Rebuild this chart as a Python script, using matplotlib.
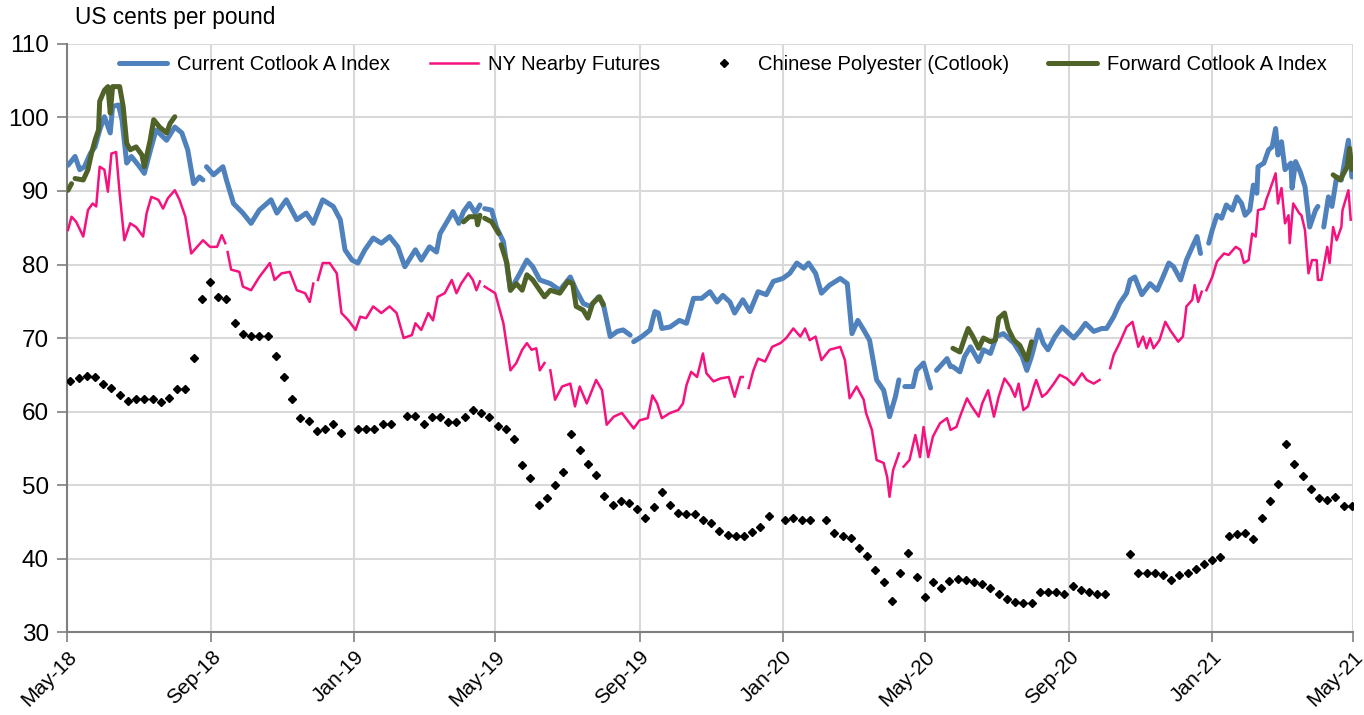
import numpy as np
import pandas as pd
import matplotlib
matplotlib.use("Agg")
import matplotlib.pyplot as plt

plt.rcParams['font.family'] = ['Liberation Sans', 'DejaVu Sans']

start = pd.Timestamp('2018-05-01')

# (days since 1 May 2018, US cents/lb); None marks a gap in the series
current_a = [
    (1, 93.5), (7, 94.7), (11, 92.9), (15, 93.3), (20, 95.1), (24, 96.0), (28, 98.3), (32, 100.1),
    (37, 97.9), (39, 101.5), (44, 101.7), (47, 99.7), (51, 93.8), (55, 94.7), (62, 93.3), (66, 92.4),
    (72, 96.0), (76, 98.3), (85, 96.9), (92, 98.7), (98, 97.9), (103, 95.6), (108, 91.0), (113, 91.9),
    (116, 91.5), (117, None), (119, 93.3), (125, 92.2), (133, 93.3), (136, 91.5), (142, 88.3), (150, 87.0),
    (157, 85.6), (164, 87.4), (174, 88.8), (179, 87.0), (187, 88.8), (196, 86.1), (204, 87.0), (210, 85.6),
    (218, 88.8), (227, 87.9), (233, 86.1), (237, 82.0), (243, 80.6), (248, 80.2), (254, 82.0), (261, 83.6),
    (268, 82.9), (275, 83.8), (282, 82.4), (288, 79.7), (297, 82.0), (302, 80.6), (309, 82.4), (315, 81.7),
    (318, 84.2), (325, 86.1), (329, 87.2), (334, 85.6), (338, 87.2), (343, 88.3), (348, 87.0), (352, 88.1),
    (354, None), (356, 87.6), (362, 87.4), (366, 85.1), (372, 83.1), (378, 76.5), (386, 78.8), (392, 80.6),
    (397, 79.7), (403, 77.9), (412, 77.4), (420, 76.5), (429, 78.3), (434, 76.5), (440, 74.7), (446, 74.3),
    (453, 75.6), (457, 74.7), (463, 70.2), (469, 70.9), (474, 71.1), (480, 70.4), (481, None), (483, 69.5),
    (490, 70.2), (497, 71.1), (501, 73.6), (504, 73.4), (507, 71.3), (514, 71.5), (522, 72.4), (528, 72.0),
    (534, 75.4), (541, 75.4), (548, 76.3), (554, 74.9), (559, 75.8), (565, 74.9), (569, 73.4), (576, 75.2),
    (582, 73.6), (589, 76.3), (596, 75.9), (602, 77.7), (610, 78.1), (616, 78.8), (622, 80.2), (628, 79.5),
    (632, 80.2), (638, 78.8), (643, 76.1), (650, 77.2), (659, 78.1), (665, 77.4), (669, 70.6), (674, 72.4),
    (679, 71.1), (684, 69.7), (690, 64.3), (696, 62.9), (701, 59.3), (706, 62.0), (709, 64.3), (711, None),
    (714, 63.4), (721, 63.4), (724, 65.6), (730, 66.6), (736, 63.2), (738, None), (741, 65.6), (750, 67.2),
    (753, 66.1), (754, None), (755, 66.1), (761, 65.4), (765, 67.5), (770, 68.8), (777, 66.8), (781, 68.4),
    (787, 67.9), (792, 70.2), (798, 70.6), (807, 69.3), (814, 67.5), (818, 65.6), (822, 67.5), (828, 71.1),
    (832, 69.3), (836, 68.4), (842, 70.2), (848, 71.5), (852, 70.9), (858, 70.0), (863, 70.9), (868, 72.0),
    (875, 70.9), (882, 71.3), (886, 71.3), (892, 72.9), (897, 74.7), (903, 76.1), (906, 77.9), (910, 78.3),
    (916, 75.9), (923, 77.4), (929, 76.5), (934, 78.3), (939, 80.2), (943, 79.7), (949, 77.9), (954, 80.6),
    (959, 82.4), (963, 83.8), (966, 81.5), (969, None), (973, 82.9), (976, 84.7), (980, 86.7), (984, 86.3),
    (988, 88.1), (993, 87.4), (997, 89.2), (1001, 88.3), (1004, 86.7), (1008, 87.4), (1011, 90.8), (1014, 89.7),
    (1015, 93.3), (1020, 93.8), (1024, 95.6), (1027, 96.0), (1030, 98.5), (1032, 94.9), (1035, 96.7), (1038, 92.9),
    (1043, 93.8), (1044, 90.4), (1047, 94.0), (1051, 92.6), (1055, 90.6), (1059, 85.1), (1064, 87.4), (1066, 87.9),
    (1068, None), (1071, 85.1), (1075, 89.2), (1078, 87.9), (1082, 91.9), (1086, 91.5), (1092, 96.9), (1095, 91.9),
]

ny_nearby = [
    (1, 84.7), (4, 86.5), (8, 85.8), (14, 83.8), (18, 87.4), (22, 88.3), (25, 87.9), (28, 93.3),
    (32, 92.9), (35, 89.9), (38, 95.1), (42, 95.3), (45, 89.7), (49, 83.3), (54, 85.6), (59, 85.1),
    (65, 83.8), (68, 87.0), (72, 89.2), (78, 88.8), (82, 87.6), (86, 89.0), (92, 90.1), (96, 88.8),
    (101, 86.5), (106, 81.5), (111, 82.4), (116, 83.3), (122, 82.4), (128, 82.4), (132, 84.0), (135, 82.9),
    (136, None), (137, 81.7), (140, 79.3), (147, 79.0), (150, 77.0), (157, 76.5), (164, 78.3), (173, 80.2),
    (177, 77.9), (183, 78.8), (190, 79.0), (196, 76.5), (203, 76.1), (207, 74.9), (210, 77.4), (212, None),
    (214, 77.9), (218, 80.2), (224, 80.2), (230, 78.8), (234, 73.4), (240, 72.4), (246, 71.1), (250, 72.9),
    (255, 72.7), (261, 74.3), (268, 73.4), (275, 74.3), (281, 73.4), (287, 70.0), (294, 70.4), (297, 72.0),
    (302, 71.1), (308, 73.4), (312, 72.4), (316, 75.6), (322, 76.1), (328, 77.9), (332, 76.1), (336, 77.4),
    (342, 78.8), (346, 77.9), (349, 76.5), (352, 77.7), (354, None), (356, 77.0), (361, 76.5), (365, 76.1),
    (372, 72.0), (378, 65.6), (383, 66.6), (388, 68.4), (392, 69.3), (396, 68.4), (400, 68.6), (403, 65.6),
    (407, 66.6), (409, None), (412, 65.6), (416, 61.6), (422, 63.4), (429, 63.8), (433, 60.7), (437, 63.4),
    (443, 61.1), (451, 64.3), (456, 62.9), (460, 58.2), (466, 59.3), (473, 59.8), (483, 57.7), (488, 58.8),
    (495, 59.1), (499, 62.2), (503, 61.1), (507, 59.1), (514, 59.8), (521, 60.2), (525, 61.1), (528, 63.6),
    (532, 65.4), (537, 64.7), (542, 67.9), (545, 65.2), (551, 64.1), (557, 64.5), (564, 64.7), (569, 62.0),
    (574, 64.7), (576, 64.7), (578, None), (581, 63.2), (585, 65.6), (589, 67.2), (595, 66.8), (601, 68.8),
    (608, 69.3), (613, 70.0), (619, 71.3), (625, 70.2), (629, 71.3), (633, 69.7), (638, 70.2), (643, 67.0),
    (650, 68.4), (659, 68.8), (663, 67.0), (667, 61.8), (673, 63.4), (679, 61.6), (681, 59.8), (686, 57.5),
    (690, 53.4), (696, 53.0), (699, 51.1), (701, 48.4), (704, 52.0), (709, 54.3), (711, None), (713, 52.5),
    (718, 53.4), (723, 56.8), (727, 53.8), (730, 57.9), (734, 53.8), (738, 56.6), (744, 58.4), (750, 59.1),
    (753, 57.5), (758, 57.9), (761, 59.3), (767, 61.8), (771, 60.7), (777, 59.3), (780, 61.1), (785, 62.9),
    (790, 59.3), (794, 62.0), (799, 64.5), (804, 63.4), (808, 62.0), (811, 63.8), (815, 60.2), (819, 60.7),
    (824, 63.4), (826, 64.3), (831, 62.0), (835, 62.5), (841, 63.8), (846, 65.0), (852, 64.5), (858, 63.6),
    (865, 65.2), (869, 64.3), (875, 63.8), (880, 64.3), (884, None), (889, 65.9), (892, 67.7), (897, 69.3),
    (903, 71.5), (908, 72.2), (913, 68.8), (917, 70.2), (920, 68.6), (923, 70.0), (926, 68.6), (931, 69.7),
    (936, 72.2), (940, 71.1), (947, 69.5), (951, 70.2), (954, 74.3), (959, 75.2), (961, 77.2), (964, 74.9),
    (967, 76.3), (969, None), (971, 76.5), (976, 78.3), (980, 80.4), (986, 81.5), (990, 81.3), (996, 82.4),
    (1000, 82.0), (1003, 80.2), (1007, 80.6), (1010, 84.2), (1013, 83.8), (1015, 87.4), (1020, 87.6), (1022, 88.8),
    (1025, 90.1), (1030, 92.4), (1032, 88.3), (1035, 90.4), (1038, 85.6), (1041, 86.7), (1042, 82.9), (1045, 88.3),
    (1050, 87.0), (1052, 86.7), (1055, 84.7), (1058, 78.8), (1061, 80.6), (1065, 80.6), (1066, 77.9), (1069, 77.9),
    (1074, 82.4), (1076, 80.2), (1079, 85.1), (1082, 83.3), (1086, 85.1), (1087, 87.4), (1092, 90.1), (1094, 86.1),
]

forward_a = [
    (1, 90.1), (4, 91.0), (5, None), (7, 91.7), (14, 91.5), (18, 92.9), (21, 95.1), (24, 96.9),
    (27, 98.3), (28, 102.2), (32, 103.7), (35, 104.2), (37, 100.6), (39, 104.2), (45, 104.2), (48, 101.5),
    (51, 96.5), (54, 95.6), (59, 96.0), (64, 94.9), (66, 93.3), (71, 96.9), (74, 99.7), (79, 98.7),
    (85, 97.9), (88, 99.2), (92, 100.1), (200, None),
    (338, 85.8), (343, 86.5), (349, 86.5), (350, 85.4), (352, 86.7), (354, None), (356, 86.3), (362, 85.8),
    (368, 84.2), (369, None), (370, 82.7), (375, 80.2), (378, 76.5), (383, 77.4), (388, 76.5), (392, 78.6),
    (397, 77.9), (403, 76.5), (407, 75.6), (412, 76.5), (420, 76.1), (427, 77.7), (431, 77.4), (434, 74.3),
    (440, 73.8), (444, 72.7), (448, 74.7), (454, 75.6), (457, 74.5), (600, None),
    (755, 68.6), (761, 68.1), (765, 70.0), (768, 71.3), (772, 70.2), (777, 68.6), (781, 70.0), (787, 69.5),
    (791, 69.7), (794, 72.7), (799, 73.4), (802, 71.3), (807, 69.7), (812, 69.0), (818, 67.0), (822, 69.5),
    (900, None),
    (1079, 92.2), (1085, 91.5), (1091, 93.3), (1093, 95.8), (1095, 92.9),
]

# weekly Chinese polyester quotes starting 4 May 2018 (None = no quote)
polyester = [
    64.1, 64.5, 64.8, 64.7, 63.8, 63.2, 62.3, 61.4, 61.7, 61.7, 61.7, 61.3, 61.9, 63.1, 63.1, 67.3,
    75.3, 77.6, 75.6, 75.3, 72.1, 70.5, 70.3, 70.3, 70.3, 67.5, 64.7, 61.7, 59.1, 58.7, 57.3, 57.6,
    58.3, 57.1, None, 57.6, 57.6, 57.6, 58.3, 58.3, None, 59.4, 59.4, 58.3, 59.3, 59.3, 58.6, 58.6,
    59.2, 60.2, 59.8, 59.3, 58.0, 57.6, 56.3, 52.7, 50.9, 47.3, 48.2, 50.0, 51.8, 57.0, 54.8, 52.8,
    51.4, 48.5, 47.3, 47.8, 47.5, 46.8, 45.5, 47.0, 49.0, 47.3, 46.2, 46.0, 46.1, 45.3, 44.8, 43.8,
    43.2, 43.0, 43.1, 43.6, 44.3, 45.8, None, 45.2, 45.5, 45.2, 45.2, None, 45.2, 43.5, 43.0, 42.8,
    41.5, 40.3, 38.5, 36.8, 34.2, 38.0, 40.7, 37.5, 34.8, 36.8, 36.0, 37.0, 37.2, 37.1, 36.8, 36.5,
    36.0, 35.2, 34.5, 34.1, 33.9, 34.0, 35.4, 35.5, 35.5, 35.2, 36.3, 35.7, 35.4, 35.2, 35.2, None,
    None, 40.6, 38.0, 38.0, 38.0, 37.8, 37.1, 37.7, 38.0, 38.6, 39.3, 39.8, 40.2, 43.0, 43.3, 43.5,
    42.7, 45.5, 47.8, 50.2, 55.6, 52.8, 51.2, 49.5, 48.2, 48.0, 48.4, 47.2, 47.2,
]

tick_labels = ['May-18', 'Sep-18', 'Jan-19', 'May-19', 'Sep-19', 'Jan-20',
               'May-20', 'Sep-20', 'Jan-21', 'May-21']


def to_series(pairs):
    days = [d for d, v in pairs]
    vals = [np.nan if v is None else v for d, v in pairs]
    return start + pd.to_timedelta(days, unit='D'), np.array(vals, dtype=float)


fig = plt.figure(figsize=(13.64, 7.15), dpi=100)
ax = fig.add_axes([0.049, 0.116, 0.943, 0.8225])

x, y = to_series(current_a)
ax.plot(x, y, color='#4F81BD', lw=3.6, label='Current Cotlook A Index', zorder=3,
        solid_capstyle='round')
x, y = to_series(ny_nearby)
ax.plot(x, y, color='#F5127F', lw=1.8, label='NY Nearby Futures', zorder=4)
poly_dates = pd.Timestamp('2018-05-04') + pd.to_timedelta(np.arange(len(polyester)) * 7, unit='D')
poly_vals = np.array([np.nan if v is None else v for v in polyester], dtype=float)
ax.plot(poly_dates, poly_vals, ls='none', marker='D', ms=3.6, color='black',
        label='Chinese Polyester (Cotlook)', zorder=5)
x, y = to_series(forward_a)
ax.plot(x, y, color='#4F6228', lw=3.6, label='Forward Cotlook A Index', zorder=4,
        solid_capstyle='round')

ax.set_ylim(30, 110)
ax.set_yticks(range(30, 111, 10))
ax.set_xlim(start, pd.Timestamp('2021-05-01'))
ticks = pd.date_range('2018-05-01', '2021-05-01', freq='4MS')
ax.set_xticks(ticks)
ax.set_xticklabels(tick_labels, rotation=45, ha='right', rotation_mode='anchor')

ax.grid(True, color='#D9D9D9', lw=1.5)
ax.set_axisbelow(True)
for s in ['top', 'right']:
    ax.spines[s].set_visible(False)
for s in ['left', 'bottom']:
    ax.spines[s].set_color('#7F7F7F')
    ax.spines[s].set_linewidth(1.5)
ax.tick_params(axis='both', colors='#7F7F7F', labelcolor='black',
               length=7, width=1.2)
ax.tick_params(axis='y', labelsize=17.5, pad=6)
ax.tick_params(axis='x', labelsize=15, pad=4)

ax.text(0.006, 1.025, 'US cents per pound', transform=ax.transAxes, fontsize=16.3,
        ha='left', va='bottom')

ax.legend(loc='upper center', bbox_to_anchor=(0.51, 1.012), ncol=4, frameon=False,
          fontsize=14.5, handlelength=2.4, columnspacing=1.95, handletextpad=0.5)

fig.savefig('out.png', dpi=100)
